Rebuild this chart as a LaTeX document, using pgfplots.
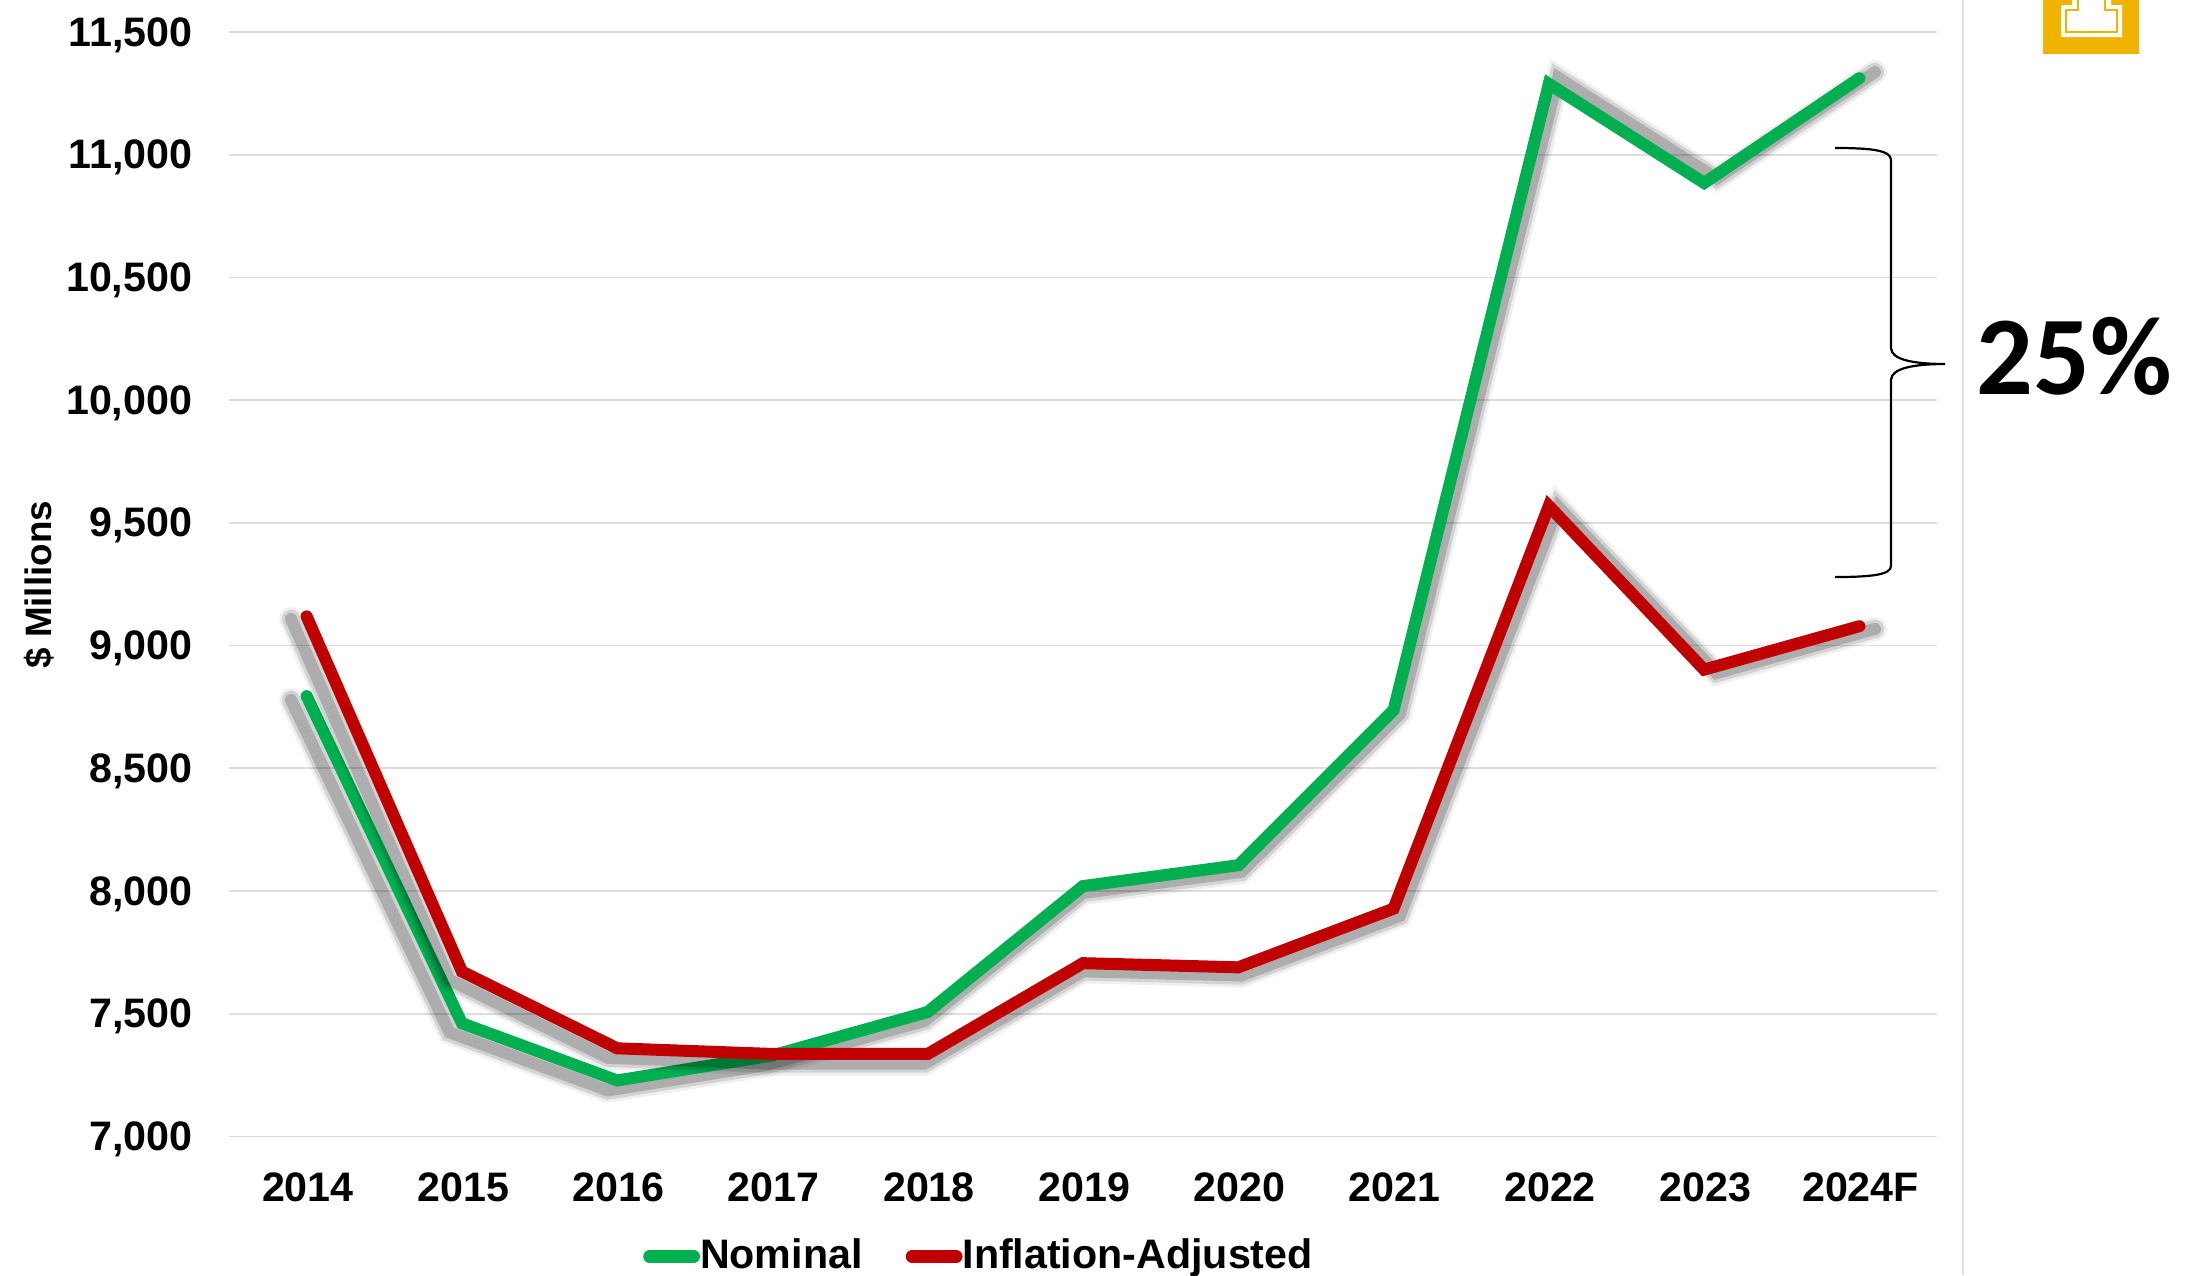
\documentclass[border=0pt]{standalone}
\usepackage{fontspec}
\setmainfont{Liberation Sans}
\newfontfamily\calloutfont{Carlito}
\usepackage{pgfplots}
\usepackage{pgfplotstable}
\pgfplotsset{compat=1.18}

\definecolor{nominal}{HTML}{00B050}
\definecolor{adjusted}{HTML}{C00000}
\definecolor{gridgray}{HTML}{DEDEDE}
\definecolor{gold}{HTML}{F0B400}

\pgfplotstableread{
x nominal adjusted
0 8794 9119
1 7461 7672
2 7228 7359
3 7330 7336
4 7507 7336
5 8020 7706
6 8105 7689
7 8737 7928
8 11289 9569
9 10885 8902
10 11312 9079
}\spend

% soft drop shadow, slightly enlarged around the middle of the chart
\pgfplotsset{
  soft/.style={forget plot, draw=black, line cap=round, line width=#1},
}
\newcommand{\shadowline}[1]{%
  \addplot[soft=6pt, opacity=.06] table[x expr={5+1.02*(\thisrow{x}-5)}, y expr={9774+1.016*(\thisrow{#1}-9774)}] {\spend};
  \addplot[soft=4.6pt, opacity=.12] table[x expr={5+1.02*(\thisrow{x}-5)}, y expr={9774+1.016*(\thisrow{#1}-9774)}] {\spend};
  \addplot[soft=3pt, opacity=.18] table[x expr={5+1.02*(\thisrow{x}-5)}, y expr={9774+1.016*(\thisrow{#1}-9774)}] {\spend};
}

\begin{document}
\begin{tikzpicture}[x=0.25pt,y=-0.25pt]
\path[use as bounding box] (0,0) rectangle (2190,1275);
\begin{axis}[
    at={(57.25pt,-284.1pt)}, anchor=south west,
    scale only axis,
    width=427pt, height=276.1pt,
    xmin=-0.5, xmax=10.5, ymin=7000, ymax=11500,
    xtick={0,1,...,10},
    xticklabels={2014,2015,2016,2017,2018,2019,2020,2021,2022,2023,2024F},
    ytick={7000,7500,...,11500},
    scaled y ticks=false,
    ymajorgrids,
    grid style={gridgray, line width=.45pt},
    x axis line style={draw=gridgray, line width=.45pt, -},
    y axis line style={draw=none, -},
    axis x line*=bottom, axis y line*=left,
    major tick length=0pt,
    clip=false,
    tick label style={font=\fontsize{10.3}{12}\selectfont\bfseries, text=black},
    yticklabel style={/pgf/number format/fixed, /pgf/number format/1000 sep={,}, /pgf/number format/assume math mode=true, inner sep=0pt, xshift=-9pt, yshift=-.7pt},
    xticklabel style={inner sep=0pt, yshift=-8.8pt, xshift=.3pt},
    ylabel={\$ Millions},
    every axis y label/.style={at={(axis description cs:-0.1112,0.4995)}, rotate=90, anchor=center, font=\fontsize{9.2}{10}\selectfont\bfseries},
    legend columns=2,
    legend cell align=left,
    legend style={draw=none, fill=none, at={(axis description cs:0.4385,-0.1087)}, anchor=center, inner sep=0pt,
      nodes={inner xsep=0pt},
      font=\fontsize{10.3}{12}\selectfont\bfseries, /tikz/every even column/.append style={column sep=10.8pt}},
    legend image code/.code={\draw[#1, line cap=round, line width=3.2pt] (0.6pt,0pt) -- (11.6pt,0pt);},
]
\shadowline{nominal}
\addplot[nominal, line width=3pt, line cap=round] table[x=x, y=nominal] {\spend};
\addlegendentry{Nominal}
\shadowline{adjusted}
\addplot[adjusted, line width=3pt, line cap=round] table[x=x, y=adjusted] {\spend};
\addlegendentry{Inflation-Adjusted}
\end{axis}
% panel edge
\draw[gridgray, line width=.6pt] (1963,0) -- (1963,1275);
% brace
\draw[black, line width=.55pt] (1835,148) .. controls (1870,148) and (1891,150) .. (1891,160)
  -- (1891,348) .. controls (1891,360) and (1915,364) .. (1945,364)
  .. controls (1915,364) and (1891,368) .. (1891,380)
  -- (1891,566) .. controls (1891,575) and (1870,577) .. (1835,577);
\node[font=\calloutfont\fontsize{28}{32}\selectfont\bfseries, anchor=center] at (2074,356) {25\%};
% gold badge
\fill[gold] (2043,0) rectangle (2139,54);
\fill[white] (2072,0) -- (2072,5) -- (2061,5) -- (2061,37) -- (2122,37) -- (2122,5) -- (2111,5) -- (2111,0) -- cycle;
\draw[gold, line width=.4pt] (2078,0) -- (2078,10) -- (2066,10) -- (2066,32) -- (2117,32) -- (2117,10) -- (2105,10) -- (2105,0);
\end{tikzpicture}
\end{document}
